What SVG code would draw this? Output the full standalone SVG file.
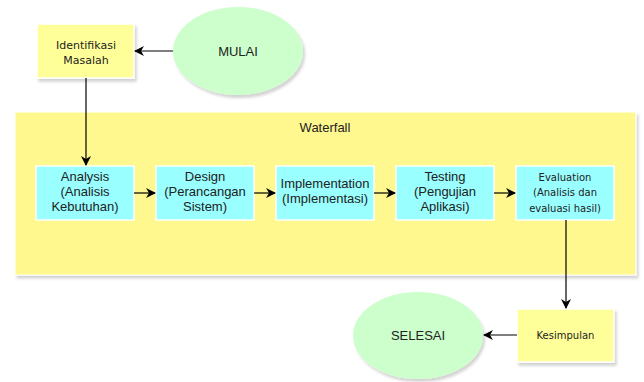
<svg xmlns="http://www.w3.org/2000/svg" width="644" height="382" viewBox="0 0 644 382">
  <defs>
    <filter id="sh" x="-10%" y="-10%" width="130%" height="140%">
      <feGaussianBlur in="SourceAlpha" stdDeviation="1.5"/>
      <feOffset dx="2" dy="3" result="b"/>
      <feComponentTransfer><feFuncA type="linear" slope="0.18"/></feComponentTransfer>
      <feMerge><feMergeNode/><feMergeNode in="SourceGraphic"/></feMerge>
    </filter>
    <marker id="arr" viewBox="0 0 10 10" refX="9" refY="5" markerWidth="10" markerHeight="10" markerUnits="userSpaceOnUse" orient="auto">
      <path d="M0,0 L10,5 L0,10 L3,5 Z" fill="#000"/>
    </marker>
  </defs>
  <style>
    .box { stroke: #ffffff; stroke-width: 1.5; }
    .yel { fill: #FFFF99; }
    .cyan { fill: #99FFFF; }
    .ell { fill: #CCFFCC; stroke: none; }
    .cont { fill: #FFF88F; stroke: #ffffff; stroke-width: 1; }
    text { font-family: "Liberation Sans", Arial, sans-serif; font-size: 13px; fill: #222; text-anchor: middle; }
    .dv { font-family: "DejaVu Sans", Verdana, sans-serif; font-size: 11px; }
    .dvs { font-family: "DejaVu Sans", Verdana, sans-serif; font-size: 10px; }
    .conn { fill: none; stroke: #000; stroke-width: 1.2; marker-end: url(#arr); }
  </style>
  <rect width="644" height="382" fill="#ffffff"/>

  <g id="waterfall">
    <rect class="cont" x="15" y="112" width="621" height="163" filter="url(#sh)"/>
    <text x="325" y="132">Waterfall</text>
  </g>

  <g id="identifikasi">
    <rect class="box yel" x="37" y="24" width="97" height="54" filter="url(#sh)"/>
    <text class="dv" x="86" y="49">Identifikasi</text>
    <text class="dv" x="86" y="64">Masalah</text>
  </g>

  <g id="mulai">
    <ellipse class="ell" cx="238" cy="51" rx="65" ry="44" filter="url(#sh)"/>
    <text x="238" y="56">MULAI</text>
  </g>

  <g id="analysis">
    <rect class="box cyan" x="36" y="166" width="98" height="54"/>
    <text x="85" y="181">Analysis</text>
    <text x="85" y="196">(Analisis</text>
    <text x="85" y="211">Kebutuhan)</text>
  </g>

  <g id="design">
    <rect class="box cyan" x="156" y="166" width="98" height="54"/>
    <text x="205" y="181">Design</text>
    <text x="205" y="196">(Perancangan</text>
    <text x="205" y="211">Sistem)</text>
  </g>

  <g id="implementation">
    <rect class="box cyan" x="276" y="166" width="98" height="54"/>
    <text x="325" y="188">Implementation</text>
    <text x="325" y="203">(Implementasi)</text>
  </g>

  <g id="testing">
    <rect class="box cyan" x="396" y="166" width="98" height="54"/>
    <text x="445" y="181">Testing</text>
    <text x="445" y="196">(Pengujian</text>
    <text x="445" y="211">Aplikasi)</text>
  </g>

  <g id="evaluation">
    <rect class="box cyan" x="516" y="166" width="98" height="54"/>
    <text class="dvs" x="565" y="181">Evaluation</text>
    <text class="dvs" x="565" y="196">(Analisis dan</text>
    <text class="dvs" x="565" y="212">evaluasi hasil)</text>
  </g>

  <g id="kesimpulan">
    <rect class="box yel" x="517" y="309" width="97" height="53" filter="url(#sh)"/>
    <text class="dvs" x="565.5" y="339">Kesimpulan</text>
  </g>

  <g id="selesai">
    <ellipse class="ell" cx="418" cy="335.5" rx="65" ry="43.5" filter="url(#sh)"/>
    <text x="418" y="340">SELESAI</text>
  </g>

  <g id="connectors">
    <path class="conn" d="M173,51 L135,51"/>
    <path class="conn" d="M86,78 L86,165"/>
    <path class="conn" d="M134,193 L155,193"/>
    <path class="conn" d="M254,193 L275,193"/>
    <path class="conn" d="M374,193 L395,193"/>
    <path class="conn" d="M494,193 L515,193"/>
    <path class="conn" d="M566,220 L566,308"/>
    <path class="conn" d="M517,335 L484,335"/>
  </g>
</svg>
